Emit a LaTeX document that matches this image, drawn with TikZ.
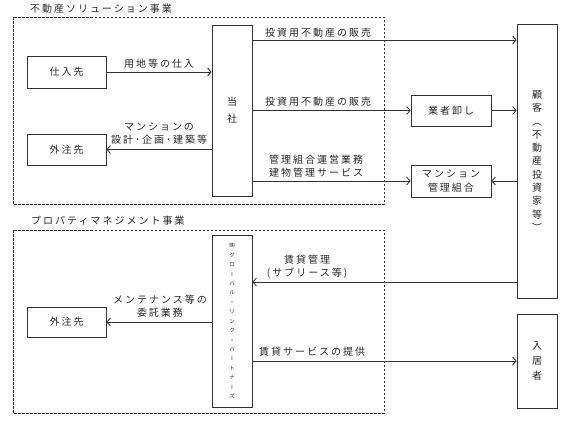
\documentclass[tikz,border=0pt]{standalone}
\usepackage{fontspec}
\newfontfamily\jp{Noto Sans CJK JP}[LetterSpace=20]
\newfontfamily\jpv{Noto Sans CJK JP}[RawFeature=+vert]
\usetikzlibrary{arrows.meta}
\begin{document}
\begin{tikzpicture}[x=1pt,y=-1pt,
  box/.style={draw=black!80, line width=0.8pt, inner sep=0pt, align=center,
    font=\jp\fontsize{10}{15}\selectfont, text=black!85},
  vbox/.style={draw=black!80, line width=0.8pt, inner sep=0pt, align=center, text=black!85},
  arr/.style={draw=black!80, line width=0.8pt, -{Straight Barb[length=3.5pt,width=8pt]}},
  ln/.style={draw=black!80, line width=0.8pt},
  dbox/.style={draw=black!80, line width=0.7pt, dash pattern=on 2.5pt off 1.5pt},
  lbl/.style={font=\jp\fontsize{10}{13}\selectfont, text=black!85, inner sep=0pt, align=center},
]
\useasboundingbox (0,0) rectangle (571,424);

% dashed frames
\draw[dbox] (13,17) rectangle (384,204);
\draw[dbox] (13,230) rectangle (384,413);
\node[lbl, anchor=west] (t1) at (30,9) {不動産ソリューション事業};
\node[lbl, anchor=west] (t2) at (31,221) {プロパティマネジメント事業};

% boxes
\node[box, minimum width=79pt, minimum height=32pt] (shiire) at (66.5,72) {仕入先};
\node[box, minimum width=79pt, minimum height=31pt] (gaichu1) at (66.5,149.5) {外注先};
\node[vbox, minimum width=40pt, minimum height=171pt, font=\jpv\fontsize{10}{17}\selectfont] (tosha) at (232,110.5) {当\\社};
\node[vbox, minimum width=40pt, minimum height=274pt, font=\jpv\fontsize{10}{13.3}\selectfont] (kokyaku) at (537,161) {顧\\客\\（\\不\\動\\産\\投\\資\\家\\等\\）};
\node[box, minimum width=80pt, minimum height=31pt] (gyosha) at (451,110.5) {業者卸し};
\node[box, minimum width=80pt, minimum height=32pt, font=\jp\fontsize{10}{14}\selectfont] (kanri) at (451,181) {マンション\\管理組合};
\node[vbox, minimum width=40pt, minimum height=172pt, font=\jpv\fontsize{5.5}{9.44}\selectfont] (gl) at (232,321)
  {㈱\\グ\\ロ\\ー\\バ\\ル\\・\\リ\\ン\\ク\\・\\パ\\ー\\ト\\ナ\\ー\\ズ};
\node[box, minimum width=79pt, minimum height=30pt] (gaichu2) at (66.5,322) {外注先};
\node[vbox, minimum width=40pt, minimum height=94pt, font=\jpv\fontsize{10}{15}\selectfont] (nyukyo) at (537,361) {入\\居\\者};

% connectors
\draw[arr] (tosha.east |- 0,40) -- (kokyaku.west |- 0,40);
\draw[arr] (tosha.east |- gyosha.west) -- (gyosha.west);
\draw[arr] (gyosha.east) -- (kokyaku.west |- gyosha.east);
\draw[arr] (tosha.east |- kanri.west) -- (kanri.west);
\draw[arr] (kokyaku.west |- kanri.east) -- (kanri.east);
\draw[arr] (shiire.east) -- (tosha.west |- shiire.east);
\draw[arr] (tosha.west |- gaichu1.east) -- (gaichu1.east);
\draw[arr] (kokyaku.west |- 0,282) -- (gl.east |- 0,282);
\draw[arr] (gl.west |- gaichu2.east) -- (gaichu2.east);
\draw[arr] (gl.east |- nyukyo.west) -- (nyukyo.west);

% labels
\node[lbl] (l1) at (318,33) {投資用不動産の販売};
\node[lbl] (l2) at (318,102) {投資用不動産の販売};
\node[lbl] (l3) at (316,166) {管理組合運営業務\\建物管理サービス};
\node[lbl] (l4) at (159,64) {用地等の仕入};
\node[lbl] (l5) at (159,134) {マンションの\\設計･企画･建築等};
\node[lbl] (l6) at (307,267) {賃貸管理\\(サブリース等)};
\node[lbl] (l7) at (160,306) {メンテナンス等の\\委託業務};
\node[lbl] (l8) at (312,352) {賃貸サービスの提供};
\end{tikzpicture}
\end{document}
